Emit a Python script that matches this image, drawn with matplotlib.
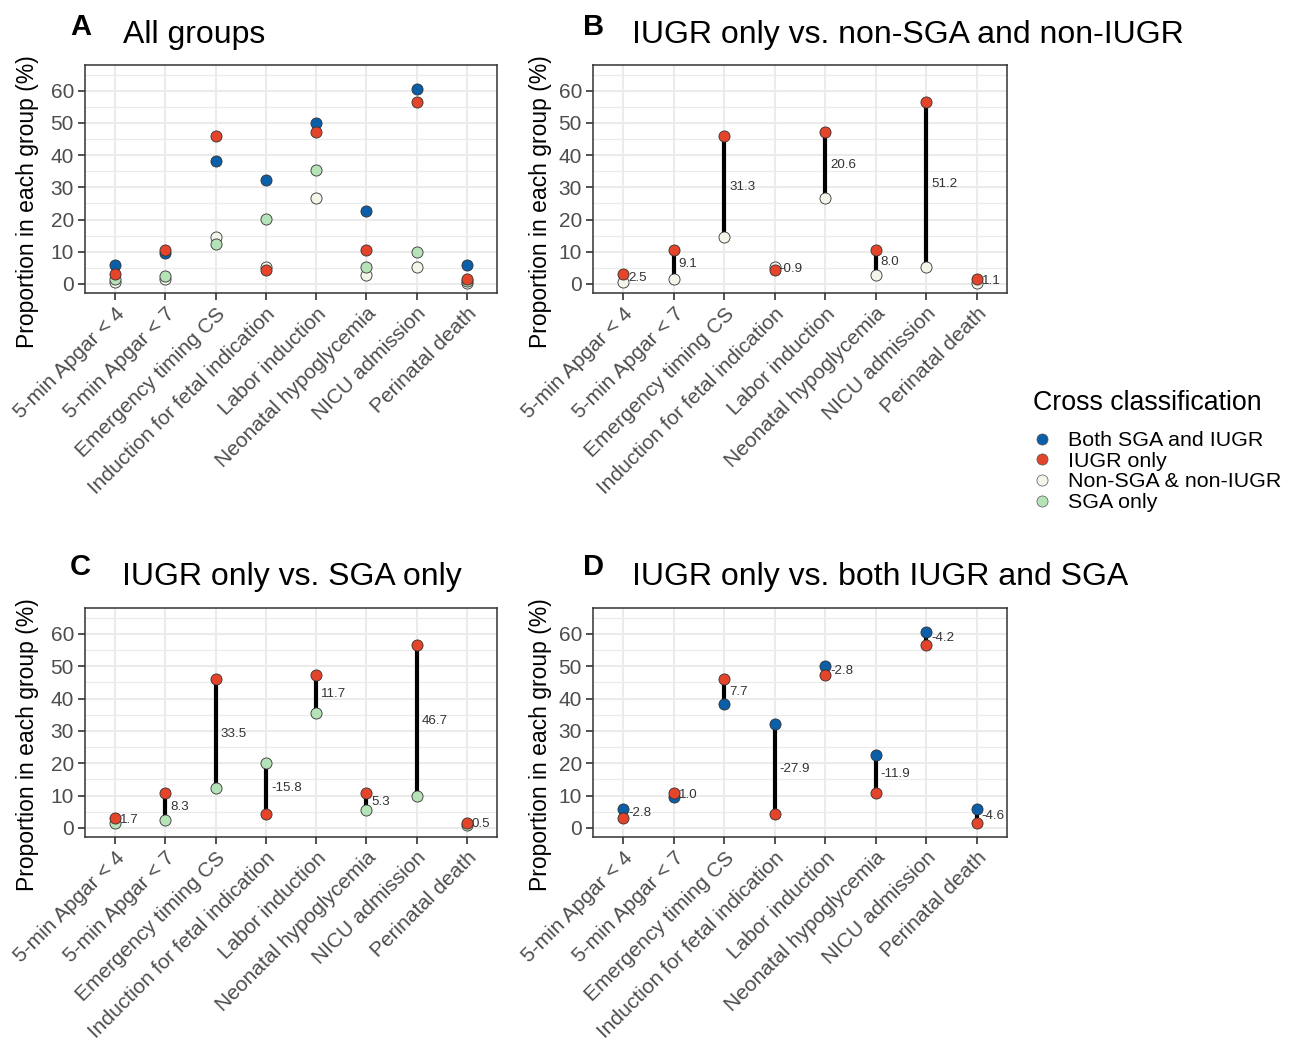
import numpy as np
import matplotlib.pyplot as plt
from matplotlib.lines import Line2D
import matplotlib.transforms as mtransforms

plt.rcParams['font.family'] = ['Liberation Sans', 'DejaVu Sans']

# outcomes on the x axis
outcomes = ['5-min Apgar < 4', '5-min Apgar < 7', 'Emergency timing CS',
            'Induction for fetal indication', 'Labor induction',
            'Neonatal hypoglycemia', 'NICU admission', 'Perinatal death']

# proportion (%) in each cross classification group
both = [6.0, 9.7, 38.2, 32.2, 50.0, 22.6, 60.7, 6.0]
iugr = [3.2, 10.7, 45.9, 4.3, 47.2, 10.7, 56.5, 1.4]
neither = [0.7, 1.6, 14.6, 5.2, 26.6, 2.7, 5.3, 0.3]
sga = [1.5, 2.4, 12.4, 20.1, 35.5, 5.4, 9.8, 0.9]

groups = ['Both SGA and IUGR', 'IUGR only', 'Non-SGA & non-IUGR', 'SGA only']
colores = {'Both SGA and IUGR': '#0B5EA8', 'IUGR only': '#E4442A',
           'Non-SGA & non-IUGR': '#F1F6E9', 'SGA only': '#B6E2B8'}

W, H = 1299, 1045
fig = plt.figure(figsize=(W / 100, H / 100), dpi=100)


def ejes(l, t, r, b):
    return fig.add_axes([l / W, 1 - b / H, (r - l) / W, (b - t) / H])


def estilo(ax):
    x = np.arange(1, len(outcomes) + 1)
    ax.set_xlim(0.4, 8.6)
    ax.set_ylim(-2.8, 68)
    ax.set_xticks(x)
    ax.set_xticklabels(outcomes, rotation=45, ha='right', va='top',
                       rotation_mode='anchor', fontsize=15.3, color='#4D4D4D')
    off = mtransforms.ScaledTranslation(10 / 100, -8 / 100, fig.dpi_scale_trans)
    for lab in ax.get_xticklabels():
        lab.set_transform(lab.get_transform() + off)
    ax.set_yticks(range(0, 61, 10))
    ax.set_yticks(range(5, 66, 10), minor=True)
    ax.grid(which='major', color='#EBEBEB', lw=1.5)
    ax.grid(which='minor', axis='y', color='#EBEBEB', lw=0.8)
    ax.set_axisbelow(True)
    ax.tick_params(which='major', length=5, width=1.2, color='#333333',
                   labelsize=15, labelcolor='#4D4D4D', pad=3)
    ax.tick_params(which='minor', length=0)
    for s in ax.spines.values():
        s.set_color('#333333')
        s.set_linewidth(1.1)


def puntos(ax, vals, grupo):
    x = np.arange(1, len(outcomes) + 1)
    ax.scatter(x, vals, s=64, color=colores[grupo], edgecolor='#333333',
               linewidth=0.6, zorder=3)


def comparar(ax, otro, grupo):
    x = np.arange(1, len(outcomes) + 1)
    ax.vlines(x, otro, iugr, color='black', lw=3, zorder=2)
    for xi, a, b in zip(x, iugr, otro):
        d = round(a - b, 1)
        ax.text(xi + 0.1, (a + b) / 2, f'{d:.1f}', fontsize=9.6, color='#333333',
                ha='left', va='center', zorder=2.5)
    puntos(ax, otro, grupo)
    puntos(ax, iugr, 'IUGR only')


# A
axA = ejes(85, 65, 497, 293)
estilo(axA)
puntos(axA, neither, 'Non-SGA & non-IUGR')
puntos(axA, sga, 'SGA only')
puntos(axA, both, 'Both SGA and IUGR')
puntos(axA, iugr, 'IUGR only')

# B
axB = ejes(593, 65, 1007, 293)
estilo(axB)
comparar(axB, neither, 'Non-SGA & non-IUGR')

# C
axC = ejes(85, 608, 497, 837)
estilo(axC)
comparar(axC, sga, 'SGA only')

# D
axD = ejes(593, 608, 1007, 837)
estilo(axD)
comparar(axD, both, 'Both SGA and IUGR')

paneles = [('A', 'All groups', 70, 123, 35, 43, 202),
           ('B', 'IUGR only vs. non-SGA and non-IUGR', 583, 632, 35, 43, 202),
           ('C', 'IUGR only vs. SGA only', 70, 122, 575, 585, 745),
           ('D', 'IUGR only vs. both IUGR and SGA', 583, 632, 575, 585, 745)]
for letra, titulo, xl, xt, yl, yt, ylab in paneles:
    fig.text(xl / W, 1 - yl / H, letra, fontsize=21, fontweight='bold',
             ha='left', va='baseline')
    fig.text(xt / W, 1 - yt / H, titulo, fontsize=23, ha='left', va='baseline')
    fig.text((xl - 42) / W, 1 - ylab / H, 'Proportion in each group (%)',
             fontsize=16.5, rotation=90, ha='center', va='center')

# legend
fig.text(1033 / W, 1 - 403 / H, 'Cross classification', fontsize=19.3,
         ha='left', va='center')
handles = [Line2D([], [], marker='o', ls='', markersize=8,
                  markerfacecolor=colores[g], markeredgecolor='#555555',
                  markeredgewidth=0.5) for g in groups]
leg = fig.legend(handles, groups, loc='upper left',
                 bbox_to_anchor=(1031 / W, 1 - 431 / H), frameon=False,
                 fontsize=15.4, handlelength=1.0, handletextpad=0.75,
                 labelspacing=0.08, borderpad=0, borderaxespad=0)

fig.savefig('out.png', dpi=100)
